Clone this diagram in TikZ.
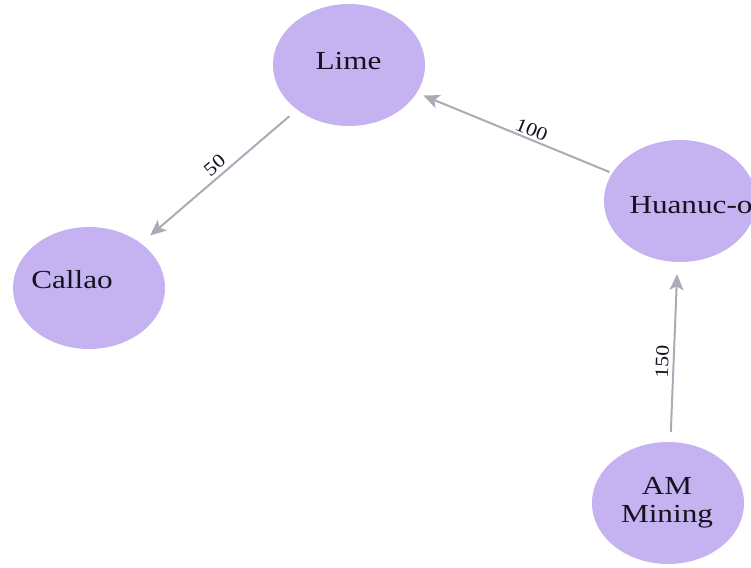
\documentclass[tikz,border=0pt]{standalone}
\usepackage{fontspec}
\setmainfont{Liberation Serif}
\newfontfamily\nodefont{Liberation Serif}[FakeStretch=1.2]
\newfontfamily\edgefont{Liberation Serif}[FakeStretch=1.15]
\usetikzlibrary{shapes.geometric,arrows.meta}
\definecolor{nodefill}{RGB}{196,178,241}
\definecolor{edgegray}{RGB}{168,172,182}
\definecolor{inkdark}{RGB}{20,18,30}
\tikzset{
  place/.style={ellipse, fill=nodefill, minimum width=152pt, minimum height=122pt,
    inner sep=0pt},
  placename/.style={font=\nodefont\fontsize{26}{28}\selectfont, text=inkdark,
    align=center, inner sep=0pt},
  flow/.style={draw=edgegray, line width=2pt,
    -{Stealth[length=16pt,width=14pt,inset=4pt]}, shorten <=10pt, shorten >=12pt},
  qty/.style={font=\edgefont\fontsize{19}{20}\selectfont, text=inkdark,
    sloped, above=2pt, inner sep=2pt},
}
\begin{document}
\begin{tikzpicture}[x=1pt,y=-1pt]
  \useasboundingbox (0,0) rectangle (751,567);
  \clip (0,0) rectangle (751,567);
  % stations
  \node[place] (lime)   at (349,65)  {};
  \node[place] (callao) at (89,288)  {};
  \node[place] (huan)   at (680,201) {};
  \node[place] (mine)   at (668,503) {};
  % station names
  \node[placename, anchor=base] (lime-name)   at (348.5,70) {Lime};
  \node[placename, anchor=base] (callao-name) at (72,288)   {Callao};
  \node[placename, anchor=base] (huan-name)   at (691,213)  {Huanuc-o};
  \node[placename]              (mine-name)   at (667,503)  {AM\\Mining};
  % shipments
  \draw[flow] (lime) -- node[qty, pos=0.48] {50} (callao);
  \draw[flow, shorten <=3pt, shorten >=7pt] (huan) -- node[qty, pos=0.43, above=-2pt] {100} (lime);
  \draw[flow] (mine) -- node[qty, pos=0.444] {150} (huan);
\end{tikzpicture}
\end{document}
